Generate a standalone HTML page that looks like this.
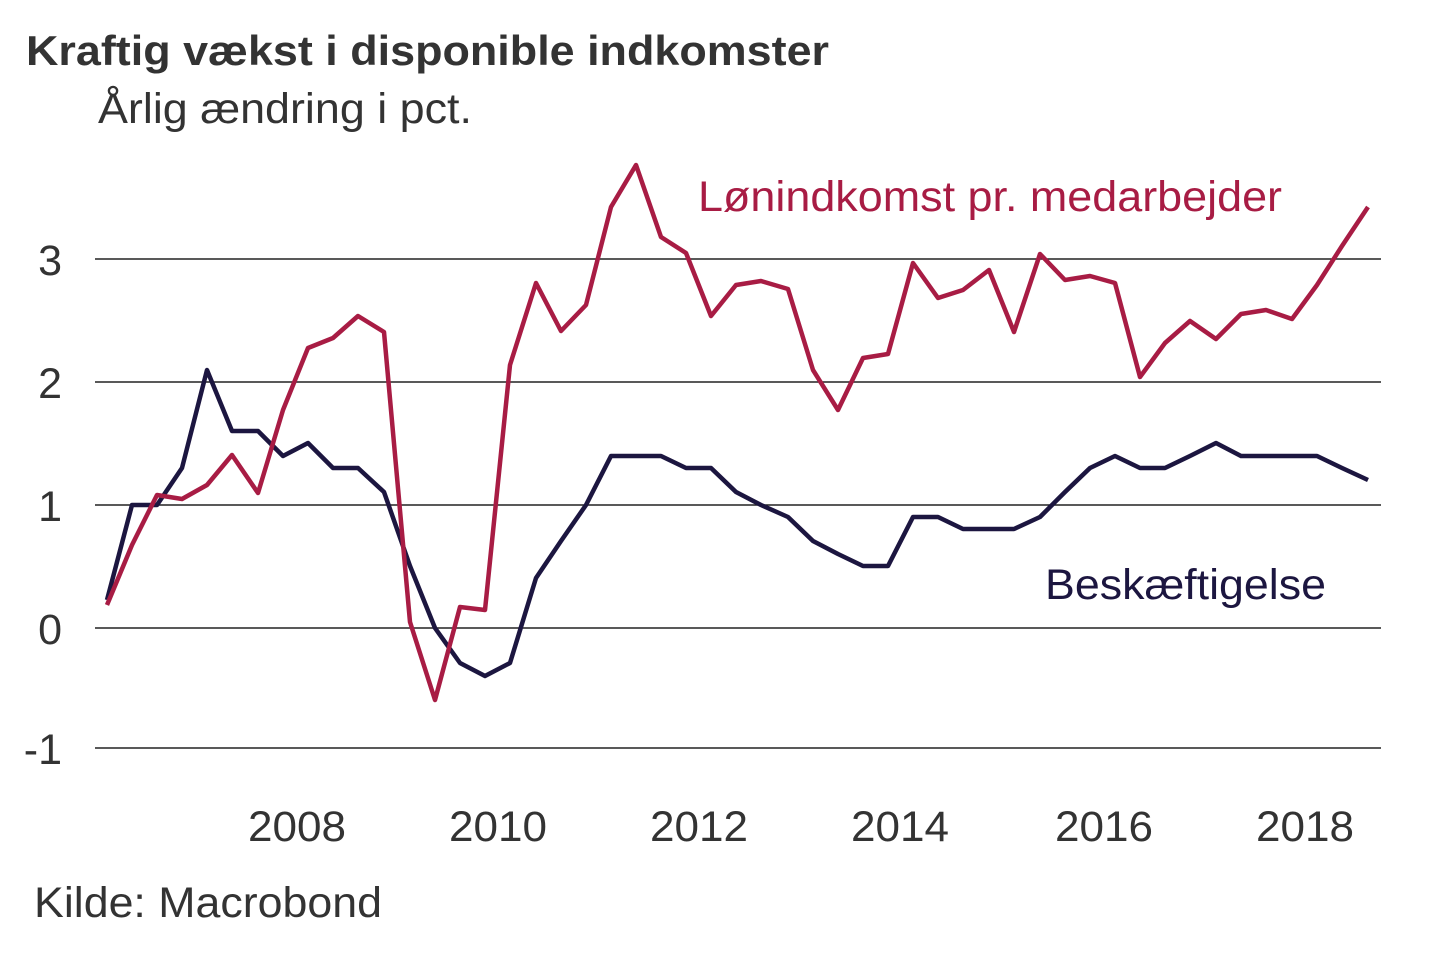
<!DOCTYPE html>
<html><head><meta charset="utf-8"><style>
html,body{margin:0;padding:0;background:#fff;}
svg{display:block;}
</style></head><body>
<svg width="1440" height="960" viewBox="0 0 1440 960" xmlns="http://www.w3.org/2000/svg" font-family="Liberation Sans, Arial, sans-serif">
<rect width="1440" height="960" fill="#fff"/>
<text x="26" y="65" font-size="42" font-weight="bold" fill="#333" textLength="803" lengthAdjust="spacingAndGlyphs">Kraftig vækst i disponible indkomster</text>
<text x="98" y="123" font-size="43" fill="#333" textLength="374" lengthAdjust="spacingAndGlyphs">Årlig ændring i pct.</text>
<g stroke="#222" stroke-width="1.5">
<line x1="95" y1="259" x2="1381" y2="259"/>
<line x1="95" y1="382" x2="1381" y2="382"/>
<line x1="95" y1="505" x2="1381" y2="505"/>
<line x1="95" y1="628" x2="1381" y2="628"/>
<line x1="95" y1="748" x2="1381" y2="748"/>
</g>
<g font-size="43" fill="#333">
<text x="62" y="275" text-anchor="end">3</text>
<text x="62" y="398" text-anchor="end">2</text>
<text x="62" y="521" text-anchor="end">1</text>
<text x="62" y="644" text-anchor="end">0</text>
<text x="62" y="764" text-anchor="end">-1</text>
<text x="248" y="841" textLength="98" lengthAdjust="spacingAndGlyphs">2008</text>
<text x="449" y="841" textLength="98" lengthAdjust="spacingAndGlyphs">2010</text>
<text x="650" y="841" textLength="98" lengthAdjust="spacingAndGlyphs">2012</text>
<text x="851" y="841" textLength="98" lengthAdjust="spacingAndGlyphs">2014</text>
<text x="1055" y="841" textLength="98" lengthAdjust="spacingAndGlyphs">2016</text>
<text x="1256" y="841" textLength="98" lengthAdjust="spacingAndGlyphs">2018</text>
<text x="34" y="917" textLength="348" lengthAdjust="spacingAndGlyphs">Kilde: Macrobond</text>
</g>
<polyline fill="none" stroke="#1c1640" stroke-width="4.5" stroke-linejoin="round" points="107,600 132,505 157,505 182,468 207,370 232,431 258,431 283,456 308,443 333,468 358,468 384,492 410,566 435,628 460,663 485,676 510,663 536,578 561,541 586,505 611,456 636,456 661,456 686,468 711,468 736,492 761,505 788,517 813,541 838,554 863,566 888,566 913,517 938,517 963,529 989,529 1014,529 1040,517 1065,492 1090,468 1115,456 1140,468 1165,468 1190,456 1216,443 1241,456 1266,456 1292,456 1317,456 1342,468 1368,480"/>
<polyline fill="none" stroke="#a81c44" stroke-width="4.5" stroke-linejoin="round" points="107,605 132,545 157,495 182,499 207,485 232,455 258,493 283,410 308,348 333,338 358,316 384,332 410,622 435,700 460,607 485,610 510,365 536,283 561,331 586,305 611,207 636,165 661,237 686,253 711,316 736,285 761,281 788,289 813,370 838,410 863,358 888,354 913,263 938,298 963,290 989,270 1014,332 1040,254 1065,280 1090,276 1115,283 1140,377 1165,343 1190,321 1216,339 1241,314 1266,310 1292,319 1317,285 1342,246 1368,207"/>
<text x="698" y="211" font-size="43" fill="#a81c44" textLength="584" lengthAdjust="spacingAndGlyphs">Lønindkomst pr. medarbejder</text>
<text x="1045" y="599" font-size="43" fill="#1c1640" textLength="281" lengthAdjust="spacingAndGlyphs">Beskæftigelse</text>
</svg>
</body></html>
